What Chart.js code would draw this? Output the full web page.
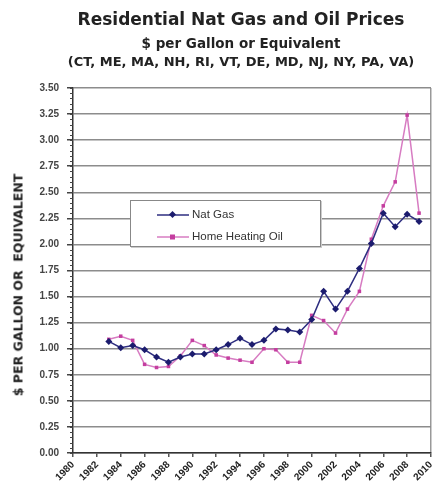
<!DOCTYPE html>
<html>
<head>
<meta charset="utf-8">
<script src="https://cdn.jsdelivr.net/npm/chart.js@4.4.1/dist/chart.umd.min.js"></script>
<style>
  body { margin: 0; background: #fff; font-family: "Liberation Sans", Arial, sans-serif; }
  #wrap { position: relative; width: 435px; height: 493px; }
  #wrap canvas { position: absolute; left: 0; top: 0; }
  .t { position: absolute; left: 41px; width: 400px; text-align: center; font-weight: bold; color: #222;
       white-space: nowrap; font-family: "DejaVu Sans", sans-serif; }
  #t1 { top: 9px; font-size: 17px; }
  #t2 { top: 35px; font-size: 13.5px; }
  #t3 { top: 54px; font-size: 13px; }
  #ytitle { position: absolute; left: 18px; top: 285px; transform: translate(-50%, -50%) rotate(-90deg);
            font-family: "DejaVu Sans", sans-serif; font-weight: bold; font-size: 12.5px; color: #222; white-space: nowrap; }
  #legend { position: absolute; left: 130px; top: 200px; width: 189px; height: 45px; background: #fff;
            border: 1px solid #888; box-shadow: 1px 1px 0 #ccc; font-size: 11.5px; color: #333; }
  .li { position: absolute; left: 26px; height: 14px; line-height: 14px; }
  .li svg { vertical-align: middle; margin-right: 3px; }
</style>
</head>
<body>
<div id="wrap">
  <canvas id="myChart"></canvas>
  <div class="t" id="t1">Residential Nat Gas and Oil Prices</div>
  <div class="t" id="t2">$ per Gallon or Equivalent</div>
  <div class="t" id="t3">(CT, ME, MA, NH, RI, VT, DE, MD, NJ, NY, PA, VA)</div>
  <div id="ytitle">$ PER GALLON OR&nbsp; EQUIVALENT</div>
  <div id="legend">
    <div class="li" style="top:6px"><svg width="32" height="10"><line x1="0" y1="5" x2="32" y2="5" stroke="#2e2e80" stroke-width="1.5"/><rect x="13" y="2" width="5" height="5" fill="#1c1c6e" transform="rotate(45 15.5 4.5)"/></svg>Nat Gas</div>
    <div class="li" style="top:28px"><svg width="32" height="10"><line x1="0" y1="5" x2="32" y2="5" stroke="#d77cc2" stroke-width="1.5"/><rect x="13" y="2.5" width="5" height="5" fill="#c43d9f"/></svg>Home Heating Oil</div>
  </div>
</div>
<script>
// values
const years = [1983, 1984, 1985, 1986, 1987, 1988, 1989, 1990, 1991, 1992, 1993, 1994, 1995,
  1996, 1997, 1998, 1999, 2000, 2001, 2002, 2003, 2004, 2005, 2006, 2007, 2008, 2009];
const natGas = [1.07, 1.01, 1.03, 0.99, 0.92, 0.87, 0.92, 0.95, 0.95, 0.99, 1.04, 1.10, 1.04,
  1.08, 1.19, 1.18, 1.16, 1.28, 1.55, 1.38, 1.55, 1.77, 2.01, 2.30, 2.17, 2.29, 2.22];
const heatingOil = [1.09, 1.12, 1.08, 0.85, 0.82, 0.83, 0.93, 1.08, 1.03, 0.94, 0.91, 0.89, 0.87,
  1.00, 0.99, 0.87, 0.87, 1.32, 1.27, 1.15, 1.38, 1.55, 2.05, 2.37, 2.60, 3.24, 2.30];

const xMin = 1980, xMax = 2010, xStep = 2;
const yMin = 0, yMax = 3.5, yStep = 0.25, yMinor = 0.05;

function pts(vals) {
  return years.map((y, i) => ({ x: y, y: vals[i] }));
}

// small ticks on the left of the y axis
const minorTicks = {
  id: 'minorTicks',
  afterDraw(chart) {
    const ys = chart.scales.y;
    const ctx = chart.ctx;
    const x0 = chart.chartArea.left;
    ctx.save();
    ctx.strokeStyle = '#444';
    ctx.lineWidth = 1;
    for (let v = yMin; v <= yMax + 1e-9; v += yMinor) {
      const py = Math.round(ys.getPixelForValue(v)) + 0.5;
      ctx.beginPath();
      ctx.moveTo(x0 - 3, py);
      ctx.lineTo(x0, py);
      ctx.stroke();
    }
    ctx.restore();
  }
};

const config = {
  type: 'line',
  data: {
    datasets: [{
      label: 'Nat Gas',
      data: pts(natGas),
      borderColor: '#2e2e80',
      backgroundColor: '#1c1c6e',
      borderWidth: 1.5,
      pointStyle: 'rectRot',
      pointRadius: 3.5,
      pointBorderWidth: 0,
      tension: 0
    }, {
      label: 'Home Heating Oil',
      data: pts(heatingOil),
      borderColor: '#d77cc2',
      backgroundColor: '#c43d9f',
      borderWidth: 1.5,
      pointStyle: 'rect',
      pointRadius: 2.5,
      pointBorderWidth: 0,
      tension: 0
    }]
  },
  options: {
    responsive: true,
    maintainAspectRatio: false,
    animation: false,
    layout: { padding: { top: 88, left: 33, right: 2, bottom: 0 } },
    plugins: {
      legend: { display: false },
      title: { display: false },
      tooltip: { enabled: false }
    },
    scales: {
      x: {
        type: 'linear',
        min: xMin,
        max: xMax,
        ticks: {
          stepSize: xStep,
          minRotation: 45,
          maxRotation: 45,
          padding: 2,
          color: '#222',
          font: { family: 'Liberation Sans', size: 10, weight: 'bold' },
          callback: v => String(v)
        },
        grid: {
          drawOnChartArea: true,
          color: c => (c.tick && c.tick.value === xMax) ? '#999' : 'rgba(0,0,0,0)',
          tickColor: '#555',
          tickLength: 4,
          lineWidth: 1.5
        },
        border: { display: true, color: '#333', width: 1.5 },
        afterFit(s) { s.height = 40; s.paddingLeft = 0; s.paddingRight = 0; }
      },
      y: {
        min: yMin,
        max: yMax,
        ticks: {
          stepSize: yStep,
          padding: 8,
          color: '#444',
          font: { family: 'Liberation Sans', size: 10, weight: 'bold' },
          callback: v => v.toFixed(2)
        },
        grid: {
          color: '#8c8c8c',
          lineWidth: 1.5,
          tickColor: '#444',
          tickLength: 6
        },
        border: { display: true, color: '#333', width: 1.5 },
        afterFit(s) { s.width = 40; s.paddingTop = 0; s.paddingBottom = 0; }
      }
    }
  },
  plugins: [minorTicks]
};

const myChart = new Chart(document.getElementById('myChart'), config);
</script>
</body>
</html>
